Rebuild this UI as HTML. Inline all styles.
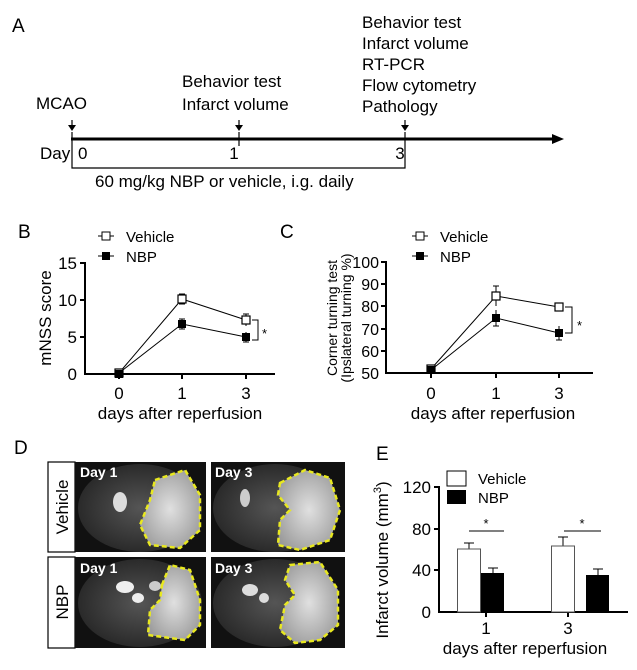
<!DOCTYPE html>
<html><head><meta charset="utf-8"><style>
html,body{margin:0;padding:0;background:#fff;}
svg{display:block;font-family:"Liberation Sans",Arial,sans-serif;}
</style></head><body>
<svg width="637" height="670" viewBox="0 0 637 670" xmlns="http://www.w3.org/2000/svg">
<rect width="637" height="670" fill="#fff"/>
<text x="12" y="32" font-size="19">A</text>
<g font-size="17" fill="#000">
<text x="36" y="109">MCAO</text>
<text x="182" y="87">Behavior test</text>
<text x="182" y="110">Infarct volume</text>
<text x="362" y="28">Behavior test</text>
<text x="362" y="49">Infarct volume</text>
<text x="362" y="70">RT-PCR</text>
<text x="362" y="91">Flow cytometry</text>
<text x="362" y="112">Pathology</text>
<text x="40" y="159">Day</text><text x="78" y="159">0</text>
<text x="234" y="159" text-anchor="middle">1</text>
<text x="400" y="159" text-anchor="middle">3</text>
<text x="95" y="187">60 mg/kg NBP or vehicle, i.g. daily</text>
</g>
<line x1="71" y1="139" x2="552" y2="139" stroke="#000" stroke-width="3"/>
<polygon points="552,134 564,139 552,144" fill="#000"/>
<g stroke="#000" stroke-width="1.2">
<line x1="72" y1="132" x2="72" y2="146"/><line x1="239" y1="132" x2="239" y2="146"/><line x1="405" y1="132" x2="405" y2="146"/>
<line x1="72" y1="120" x2="72" y2="126"/><line x1="239" y1="120" x2="239" y2="126"/><line x1="405" y1="120" x2="405" y2="126"/>
<polyline points="72,146 72,168 405,168 405,146" fill="none"/>
</g>
<g fill="#000"><polygon points="68,125 76,125 72,131"/><polygon points="235,125 243,125 239,131"/><polygon points="401,125 409,125 405,131"/></g>

<text x="18" y="238" font-size="19">B</text>
<g font-size="15">
<line x1="98" y1="236" x2="114" y2="236" stroke="#000"/><rect x="102" y="232" width="8" height="8" fill="#fff" stroke="#000"/>
<text x="126" y="242">Vehicle</text>
<line x1="98" y1="256" x2="114" y2="256" stroke="#000"/><rect x="102" y="252" width="8" height="8" fill="#000"/>
<text x="126" y="262">NBP</text>
</g>
<g stroke="#000" stroke-width="2" fill="none">
<line x1="85" y1="262" x2="85" y2="375"/><line x1="84" y1="374" x2="275" y2="374"/>
<line x1="80" y1="263" x2="85" y2="263"/><line x1="80" y1="300" x2="85" y2="300"/><line x1="80" y1="337" x2="85" y2="337"/>
<line x1="119" y1="374" x2="119" y2="379"/><line x1="182" y1="374" x2="182" y2="379"/><line x1="246" y1="374" x2="246" y2="379"/>
</g>
<g font-size="17" text-anchor="end"><text x="77" y="269">15</text><text x="77" y="306">10</text><text x="77" y="343">5</text><text x="77" y="380">0</text></g>
<g font-size="17" text-anchor="middle"><text x="119" y="399">0</text><text x="182" y="399">1</text><text x="246" y="399">3</text>
<text x="180" y="419">days after reperfusion</text></g>
<text transform="translate(51,318) rotate(-90)" font-size="17" text-anchor="middle">mNSS score</text>
<g stroke="#000" stroke-width="1" fill="none">
<polyline points="119,373 182,299 246,320"/><polyline points="119,373 182,324 246,337"/>
<line x1="182" y1="294" x2="182" y2="304"/><line x1="179" y1="294" x2="185" y2="294"/><line x1="179" y1="304" x2="185" y2="304"/>
<line x1="246" y1="314" x2="246" y2="326"/><line x1="243" y1="314" x2="249" y2="314"/>
<line x1="182" y1="319" x2="182" y2="329"/><line x1="179" y1="319" x2="185" y2="319"/><line x1="179" y1="329" x2="185" y2="329"/>
<line x1="246" y1="332" x2="246" y2="342"/><line x1="243" y1="342" x2="249" y2="342"/>
<polyline points="252,320 258,320 258,340 252,340"/>
</g>
<g stroke="#000" stroke-width="1.2"><rect x="115" y="369" width="8" height="8" fill="#fff"/><rect x="178" y="295" width="8" height="8" fill="#fff"/><rect x="242" y="316" width="8" height="8" fill="#fff"/></g>
<g fill="#000"><rect x="115" y="370" width="8" height="8"/><rect x="178" y="320" width="8" height="8"/><rect x="242" y="333" width="8" height="8"/></g>
<text x="262" y="338" font-size="13">*</text>

<text x="280" y="238" font-size="19">C</text>
<g font-size="15">
<line x1="412" y1="236" x2="428" y2="236" stroke="#000"/><rect x="416" y="232" width="8" height="8" fill="#fff" stroke="#000"/>
<text x="440" y="242">Vehicle</text>
<line x1="412" y1="256" x2="428" y2="256" stroke="#000"/><rect x="416" y="252" width="8" height="8" fill="#000"/>
<text x="440" y="262">NBP</text>
</g>
<g stroke="#000" stroke-width="2" fill="none">
<line x1="386" y1="261" x2="386" y2="374"/><line x1="385" y1="373" x2="593" y2="373"/>
<line x1="381" y1="262" x2="386" y2="262"/><line x1="381" y1="284" x2="386" y2="284"/><line x1="381" y1="306" x2="386" y2="306"/><line x1="381" y1="329" x2="386" y2="329"/><line x1="381" y1="351" x2="386" y2="351"/>
<line x1="431" y1="373" x2="431" y2="378"/><line x1="496" y1="373" x2="496" y2="378"/><line x1="559" y1="373" x2="559" y2="378"/>
</g>
<g font-size="16" text-anchor="end"><text x="379" y="268">100</text><text x="379" y="290">90</text><text x="379" y="312">80</text><text x="379" y="335">70</text><text x="379" y="357">60</text><text x="379" y="379">50</text></g>
<g font-size="17" text-anchor="middle"><text x="431" y="399">0</text><text x="496" y="399">1</text><text x="559" y="399">3</text>
<text x="493" y="419">days after reperfusion</text></g>
<text transform="translate(337,318) rotate(-90)" font-size="14" text-anchor="middle">Corner turning test</text>
<text transform="translate(351,318) rotate(-90)" font-size="14" text-anchor="middle">(Ipslateral turning %)</text>
<g stroke="#000" stroke-width="1" fill="none">
<polyline points="431,369 496,296 559,307"/><polyline points="431,370 496,318 559,333"/>
<line x1="496" y1="286" x2="496" y2="306"/><line x1="493" y1="286" x2="499" y2="286"/>
<line x1="559" y1="304" x2="559" y2="310"/><line x1="556" y1="304" x2="562" y2="304"/>
<line x1="496" y1="310" x2="496" y2="326"/><line x1="493" y1="326" x2="499" y2="326"/>
<line x1="559" y1="326" x2="559" y2="340"/><line x1="556" y1="340" x2="562" y2="340"/>
<polyline points="565,307 572,307 572,333 565,333"/>
</g>
<g stroke="#000" stroke-width="1.2"><rect x="427" y="365" width="8" height="8" fill="#fff"/><rect x="492" y="292" width="8" height="8" fill="#fff"/><rect x="555" y="303" width="8" height="8" fill="#fff"/></g>
<g fill="#000"><rect x="427" y="366" width="8" height="8"/><rect x="492" y="314" width="8" height="8"/><rect x="555" y="329" width="8" height="8"/></g>
<text x="577" y="330" font-size="13">*</text>

<text x="14" y="454" font-size="19">D</text>
<rect x="48" y="462" width="27" height="90" fill="#fff" stroke="#000" stroke-width="1.2"/>
<text transform="translate(68,507) rotate(-90)" font-size="17" text-anchor="middle">Vehicle</text>
<rect x="48" y="557" width="27" height="91" fill="#fff" stroke="#000" stroke-width="1.2"/>
<text transform="translate(68,602) rotate(-90)" font-size="17" text-anchor="middle">NBP</text>
<defs>
<radialGradient id="br" cx="0.5" cy="0.5" r="0.5"><stop offset="0" stop-color="#555"/><stop offset="1" stop-color="#2a2a2a"/></radialGradient>
<radialGradient id="inf" cx="0.5" cy="0.5" r="0.6"><stop offset="0" stop-color="#e0e0e0"/><stop offset="1" stop-color="#9a9a9a"/></radialGradient>
</defs>
<g>
<rect x="75" y="462" width="131" height="90" fill="#111"/>
<ellipse cx="140" cy="508" rx="62" ry="44" fill="url(#br)"/>
<ellipse cx="120" cy="502" rx="7" ry="10" fill="#ddd"/>
<path d="M155,480 L185,470 L200,495 L200,530 L180,548 L150,545 L140,525 L150,500 Z" fill="url(#inf)" stroke="#e8e820" stroke-width="2.5" stroke-dasharray="5,3"/>
<text x="80" y="477" font-size="14" font-weight="bold" fill="#fff">Day 1</text>
</g>
<g>
<rect x="211" y="462" width="134" height="90" fill="#111"/>
<ellipse cx="275" cy="508" rx="62" ry="44" fill="url(#br)"/>
<ellipse cx="245" cy="498" rx="5" ry="9" fill="#ccc"/>
<path d="M280,483 L305,470 L330,478 L340,510 L330,540 L300,550 L278,545 L280,520 L290,510 L278,495 Z" fill="url(#inf)" stroke="#e8e820" stroke-width="2.5" stroke-dasharray="5,3"/>
<text x="215" y="477" font-size="14" font-weight="bold" fill="#fff">Day 3</text>
</g>
<g>
<rect x="75" y="557" width="131" height="91" fill="#111"/>
<ellipse cx="140" cy="603" rx="62" ry="44" fill="url(#br)"/>
<ellipse cx="125" cy="587" rx="9" ry="6" fill="#eee"/><ellipse cx="138" cy="598" rx="6" ry="5" fill="#eee"/><ellipse cx="155" cy="586" rx="6" ry="5" fill="#ccc"/>
<path d="M162,585 L170,565 L190,570 L200,600 L200,625 L185,640 L148,635 L150,610 L160,600 Z" fill="url(#inf)" stroke="#e8e820" stroke-width="2.5" stroke-dasharray="5,3"/>
<text x="80" y="573" font-size="14" font-weight="bold" fill="#fff">Day 1</text>
</g>
<g>
<rect x="211" y="557" width="134" height="91" fill="#111"/>
<ellipse cx="275" cy="603" rx="62" ry="44" fill="url(#br)"/>
<ellipse cx="250" cy="590" rx="8" ry="6" fill="#ddd"/><ellipse cx="264" cy="598" rx="5" ry="5" fill="#ddd"/>
<path d="M290,565 L320,562 L338,590 L338,625 L320,640 L295,643 L280,630 L285,605 L295,595 L285,580 Z" fill="url(#inf)" stroke="#e8e820" stroke-width="2.5" stroke-dasharray="5,3"/>
<text x="215" y="573" font-size="14" font-weight="bold" fill="#fff">Day 3</text>
</g>

<text x="376" y="460" font-size="19">E</text>
<rect x="447" y="471" width="19" height="15" fill="#fff" stroke="#000"/>
<text x="478" y="484" font-size="15">Vehicle</text>
<rect x="447" y="490" width="19" height="14" fill="#000"/>
<text x="478" y="503" font-size="15">NBP</text>
<g stroke="#000" stroke-width="2" fill="none">
<line x1="439" y1="486" x2="439" y2="613"/><line x1="438" y1="612" x2="628" y2="612"/>
<line x1="434" y1="487" x2="439" y2="487"/><line x1="434" y1="529" x2="439" y2="529"/><line x1="434" y1="570" x2="439" y2="570"/>
<line x1="486" y1="612" x2="486" y2="617"/><line x1="568" y1="612" x2="568" y2="617"/>
</g>
<g font-size="17" text-anchor="end"><text x="431" y="493">120</text><text x="431" y="535">80</text><text x="431" y="576">40</text><text x="431" y="618">0</text></g>
<g font-size="17" text-anchor="middle"><text x="486" y="634">1</text><text x="568" y="634">3</text>
<text x="525" y="654">days after reperfusion</text></g>
<text transform="translate(388,560) rotate(-90)" font-size="17" text-anchor="middle">Infarct volume (mm<tspan font-size="11" dy="-7">3</tspan><tspan dy="7">)</tspan></text>
<g stroke="#000" stroke-width="1">
<line x1="469" y1="549" x2="469" y2="543"/><line x1="464" y1="543" x2="474" y2="543"/>
<line x1="493" y1="573" x2="493" y2="568"/><line x1="488" y1="568" x2="498" y2="568"/>
<line x1="563" y1="546" x2="563" y2="537"/><line x1="558" y1="537" x2="568" y2="537"/>
<line x1="598" y1="575" x2="598" y2="569"/><line x1="593" y1="569" x2="603" y2="569"/>
<line x1="469" y1="531" x2="504" y2="531"/><line x1="564" y1="531" x2="601" y2="531"/>
</g>
<rect x="457.5" y="549" width="23" height="63" fill="#fff" stroke="#555"/>
<rect x="481" y="573" width="23" height="39" fill="#000"/>
<rect x="551.5" y="546" width="23" height="66" fill="#fff" stroke="#555"/>
<rect x="586" y="575" width="23" height="37" fill="#000"/>
<g font-size="13" text-anchor="middle"><text x="486" y="528">*</text><text x="582" y="528">*</text></g>
</svg>
</body></html>
